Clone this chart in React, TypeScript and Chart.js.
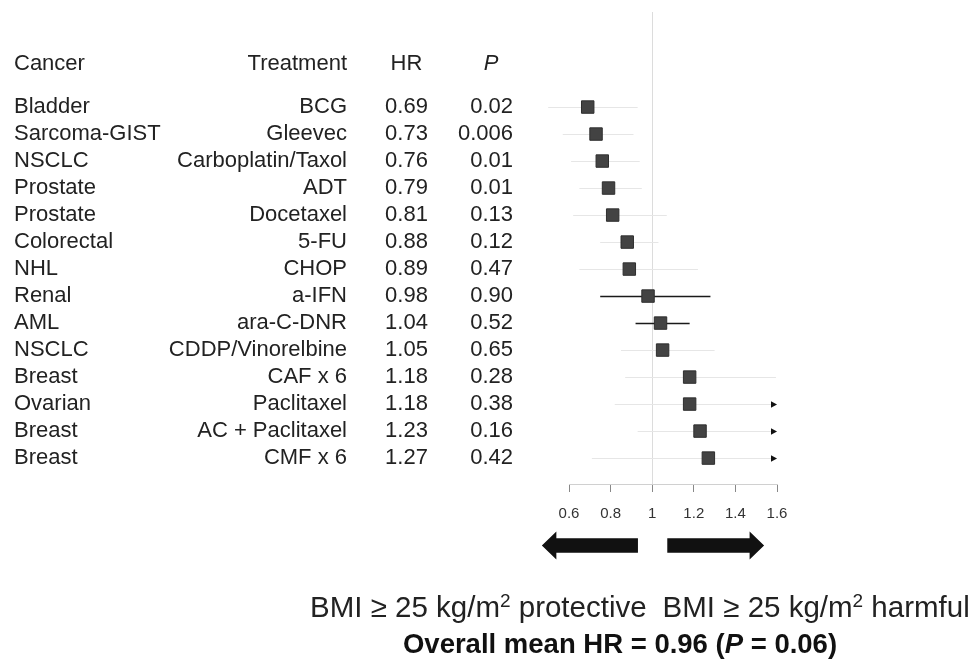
import React, { useEffect, useRef } from "react";
import { Chart, registerables } from "chart.js";

Chart.register(...registerables);

const cancers = ["Bladder", "Sarcoma-GIST", "NSCLC", "Prostate", "Prostate", "Colorectal", "NHL", "Renal", "AML", "NSCLC", "Breast", "Ovarian", "Breast", "Breast"];
const treatments = ["BCG", "Gleevec", "Carboplatin/Taxol", "ADT", "Docetaxel", "5-FU", "CHOP", "a-IFN", "ara-C-DNR", "CDDP/Vinorelbine", "CAF x 6", "Paclitaxel", "AC + Paclitaxel", "CMF x 6"];
const hrLabels = ["0.69", "0.73", "0.76", "0.79", "0.81", "0.88", "0.89", "0.98", "1.04", "1.05", "1.18", "1.18", "1.23", "1.27"];
const pLabels = ["0.02", "0.006", "0.01", "0.01", "0.13", "0.12", "0.47", "0.90", "0.52", "0.65", "0.28", "0.38", "0.16", "0.42"];
const hrValues = [0.69, 0.73, 0.76, 0.79, 0.81, 0.88, 0.89, 0.98, 1.04, 1.05, 1.18, 1.18, 1.23, 1.27];
const ciLow = [0.5, 0.57, 0.61, 0.65, 0.62, 0.75, 0.65, 0.75, 0.92, 0.85, 0.87, 0.82, 0.93, 0.71];
const ciHigh = [0.93, 0.91, 0.94, 0.95, 1.07, 1.03, 1.22, 1.28, 1.18, 1.3, 1.595, 1.9, 1.9, 1.9];
const darkCiRows = [7, 8];
const xTicks = [0.6, 0.8, 1, 1.2, 1.4, 1.6];
const xTickLabels = ["0.6", "0.8", "1", "1.2", "1.4", "1.6"];
const headers = ["Cancer", "Treatment", "HR", "P"];
const sideLabel = "BMI ≥ 25 kg/m";
const protectiveWord = " protective";
const harmfulWord = " harmful";
const overallPrefix = "Overall mean HR = 0.96 (";
const overallP = "P";
const overallSuffix = " = 0.06)";

const FONT = "'Liberation Sans', Arial, Helvetica, sans-serif";
const TEXT = "#222";

const forestPlugin = {
  id: "forest",
  beforeDatasetsDraw(chart: any) {
    const { ctx } = chart;
    const xs = chart.scales.x;
    const ys = chart.scales.y;
    const area = chart.chartArea;
    ctx.save();
    const x1 = Math.round(xs.getPixelForValue(1)) + 0.5;
    ctx.strokeStyle = "#dcdcdc";
    ctx.lineWidth = 1;
    ctx.beginPath();
    ctx.moveTo(x1, area.top);
    ctx.lineTo(x1, area.bottom);
    ctx.stroke();
    for (let i = 0; i < hrValues.length; i++) {
      const y = Math.round(ys.getPixelForValue(i)) + 0.5;
      const dark = darkCiRows.includes(i);
      const hiClip = Math.min(ciHigh[i], xs.max);
      const xl = xs.getPixelForValue(ciLow[i]);
      const xh = xs.getPixelForValue(hiClip);
      ctx.strokeStyle = dark ? "#1a1a1a" : "#e6e6e6";
      ctx.lineWidth = dark ? 1.5 : 1;
      ctx.beginPath();
      ctx.moveTo(xl, y);
      ctx.lineTo(xh, y);
      ctx.stroke();
      if (ciHigh[i] > xs.max) {
        ctx.fillStyle = "#111";
        ctx.beginPath();
        ctx.moveTo(xh, y);
        ctx.lineTo(xh - 6, y - 3.2);
        ctx.lineTo(xh - 6, y + 3.2);
        ctx.closePath();
        ctx.fill();
      }
    }
    ctx.restore();
  },
  afterDraw(chart: any) {
    const { ctx } = chart;
    const xs = chart.scales.x;
    const ys = chart.scales.y;
    ctx.save();
    ctx.fillStyle = TEXT;
    ctx.textBaseline = "middle";
    const tableFont = `22px ${FONT}`;
    ctx.font = tableFont;
    const colCancer = 14;
    const colTreat = 347;
    const colHR = 406.5;
    const colP = 513;
    const headY = ys.getPixelForValue(-1.6);
    ctx.textAlign = "left";
    ctx.fillText(headers[0], colCancer, headY);
    ctx.textAlign = "right";
    ctx.fillText(headers[1], colTreat, headY);
    ctx.textAlign = "center";
    ctx.fillText(headers[2], colHR, headY);
    ctx.font = `italic 22px ${FONT}`;
    ctx.fillText(headers[3], 491, headY);
    ctx.font = tableFont;
    for (let i = 0; i < cancers.length; i++) {
      const y = ys.getPixelForValue(i);
      ctx.textAlign = "left";
      ctx.fillText(cancers[i], colCancer, y);
      ctx.textAlign = "right";
      ctx.fillText(treatments[i], colTreat, y);
      ctx.textAlign = "center";
      ctx.fillText(hrLabels[i], colHR, y);
      ctx.textAlign = "right";
      ctx.fillText(pLabels[i], colP, y);
    }

    // direction arrows
    const ay = 545.5;
    const shaft = 7.2;
    const head = 14;
    const headLen = 14.5;
    const drawArrow = (from: number, to: number) => {
      const dir = Math.sign(to - from);
      const hb = to - dir * headLen;
      ctx.fillStyle = "#111";
      ctx.beginPath();
      ctx.moveTo(from, ay - shaft);
      ctx.lineTo(hb, ay - shaft);
      ctx.lineTo(hb, ay - head);
      ctx.lineTo(to, ay);
      ctx.lineTo(hb, ay + head);
      ctx.lineTo(hb, ay + shaft);
      ctx.lineTo(from, ay + shaft);
      ctx.closePath();
      ctx.fill();
    };
    drawArrow(xs.getPixelForValue(0.9315), xs.getPixelForValue(0.4695));
    drawArrow(xs.getPixelForValue(1.0725), xs.getPixelForValue(1.538));

    // BMI labels with superscript
    const bigSize = 29.5;
    const supSize = 19;
    const base = 617;
    const drawLabel = (word: string, startX: number) => {
      ctx.fillStyle = TEXT;
      ctx.textAlign = "left";
      ctx.textBaseline = "alphabetic";
      ctx.font = `${bigSize}px ${FONT}`;
      const a = ctx.measureText(sideLabel).width;
      ctx.fillText(sideLabel, startX, base);
      ctx.font = `${supSize}px ${FONT}`;
      const b = ctx.measureText("2").width;
      ctx.fillText("2", startX + a, base - 10);
      ctx.font = `${bigSize}px ${FONT}`;
      ctx.fillText(word, startX + a + b, base);
      return a + b + ctx.measureText(word).width;
    };
    const leftW = drawLabel(protectiveWord, 310);
    drawLabel(harmfulWord, 310 + leftW + 16);

    // overall line
    ctx.textBaseline = "alphabetic";
    const oy = 653;
    const bold = `bold 27.5px ${FONT}`;
    const boldIt = `italic bold 27.5px ${FONT}`;
    ctx.font = bold;
    const w1 = ctx.measureText(overallPrefix).width;
    const w3 = ctx.measureText(overallSuffix).width;
    ctx.font = boldIt;
    const w2 = ctx.measureText(overallP).width;
    const total = w1 + w2 + w3;
    const ox = 620 - total / 2;
    ctx.textAlign = "left";
    ctx.fillStyle = "#111";
    ctx.font = bold;
    ctx.fillText(overallPrefix, ox, oy);
    ctx.font = boldIt;
    ctx.fillText(overallP, ox + w1, oy);
    ctx.font = bold;
    ctx.fillText(overallSuffix, ox + w1 + w2, oy);
    ctx.restore();
  },
};

export default function App() {
  const ref = useRef<HTMLCanvasElement | null>(null);
  useEffect(() => {
    if (!ref.current) return;
    const chart = new Chart(ref.current, {
      type: "scatter",
      data: {
        datasets: [
          {
            data: hrValues.map((v, i) => ({ x: v, y: i })),
            pointStyle: "rect",
            pointRadius: 8.8,
            pointHoverRadius: 8.8,
            backgroundColor: "#434343",
            borderColor: "#2e2e2e",
            borderWidth: 1,
          },
        ],
      },
      options: {
        responsive: false,
        animation: false,
        events: [],
        layout: { padding: { left: 569, right: 201, top: 12, bottom: 115 } },
        plugins: { legend: { display: false }, tooltip: { enabled: false } },
        scales: {
          x: {
            type: "linear",
            min: 0.6,
            max: 1.6,
            afterBuildTicks: (scale: any) => {
              scale.ticks = xTicks.map((v) => ({ value: v }));
            },
            afterFit: (scale: any) => {
              scale.height = 60;
            },
            ticks: {
              callback: (_v: any, i: number) => xTickLabels[i],
              color: "#333",
              font: { size: 15, family: FONT },
              padding: 13,
              maxRotation: 0,
            },
            grid: {
              drawOnChartArea: false,
              drawTicks: true,
              tickLength: 8,
              color: "#888",
            },
            border: { display: true, color: "#d0d0d0" },
          },
          y: {
            type: "linear",
            display: false,
            reverse: true,
            min: -3.52,
            max: 13.96,
          },
        },
      },
      plugins: [forestPlugin],
    });
    return () => chart.destroy();
  }, []);
  return (
    <div style={{ position: "absolute", left: 0, top: 0, width: 978, height: 659, background: "#fff" }}>
      <canvas ref={ref} width={978} height={659} />
    </div>
  );
}
